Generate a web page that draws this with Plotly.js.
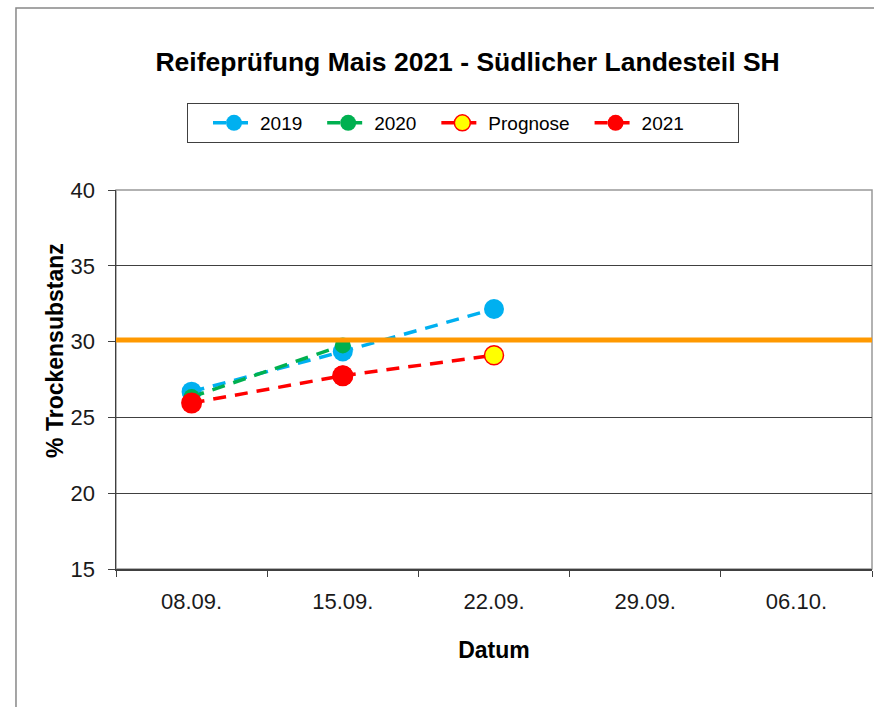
<!DOCTYPE html>
<html>
<head>
<meta charset="utf-8">
<script src="https://cdn.plot.ly/plotly-3.0.1.min.js"></script>
<style>html,body{margin:0;padding:0;background:#fff;}#chart{width:874px;height:707px;}</style>
</head>
<body>
<div id="chart"></div>
<script>
const categories = ["08.09.", "15.09.", "22.09.", "29.09.", "06.10."];
const dates2019 = ["08.09.", "15.09.", "22.09."];
const values2019 = [26.7, 29.35, 32.15];
const dates2020 = ["08.09.", "15.09."];
const values2020 = [26.35, 29.75];
const datesPrognose = ["15.09.", "22.09."];
const valuesPrognose = [27.75, 29.1];
const dates2021 = ["08.09.", "15.09."];
const values2021 = [25.95, 27.75];
const thresholdValue = 30.1;
const seriesNames = ["2019", "2020", "Prognose", "2021"];

const font = "Liberation Sans, Arial, sans-serif";
const dash = "13px,9px";
const gap = "\u2002\u2009\u200A";
const endGap = "\u2003\u2003\u2002\u200A";

const traces = [
  {x: dates2019, y: values2019, name: seriesNames[0] + gap, mode: "lines+markers",
   line: {color: "#00B0F0", width: 3.5, dash: dash},
   marker: {color: "#00B0F0", size: 20}},
  {x: dates2020, y: values2020, name: seriesNames[1] + gap, mode: "lines+markers",
   line: {color: "#00B050", width: 3.5, dash: dash},
   marker: {color: "#00B050", size: 16}},
  {x: datesPrognose, y: valuesPrognose, name: seriesNames[2] + gap, mode: "lines+markers",
   line: {color: "#FF0000", width: 3.5, dash: dash},
   marker: {color: "#FFFF00", size: 19, line: {color: "#FF0000", width: 1.5}}},
  {x: dates2021, y: values2021, name: seriesNames[3] + endGap, mode: "lines+markers",
   line: {color: "#FF0000", width: 3.5, dash: dash},
   marker: {color: "#FF0000", size: 21}}
];

const layout = {
  width: 874, height: 707,
  margin: {l: 116, r: 2, t: 190, b: 138},
  paper_bgcolor: "#fff", plot_bgcolor: "#fff",
  font: {family: font, size: 22, color: "#1a1a1a"},
  title: {text: "<b>Reifeprüfung Mais 2021 - Südlicher Landesteil SH</b>",
          font: {family: font, size: 26.5, color: "#000"},
          x: 0.535, xanchor: "center", y: 0.912, yanchor: "middle"},
  showlegend: true,
  legend: {orientation: "h", x: (187 - 116) / 756, xanchor: "left", y: 1.2296, yanchor: "top",
           bordercolor: "#404040", borderwidth: 1, bgcolor: "#fff", itemwidth: 42,
           title: {text: "\u2003", side: "left", font: {family: font, size: 10}},
           font: {family: font, size: 19, color: "#000"}, traceorder: "normal"},
  xaxis: {type: "category", categoryorder: "array", categoryarray: categories,
          range: [-0.5, 4.5], tickson: "boundaries", ticks: "outside", ticklen: 6,
          tickcolor: "#404040", showline: true, linecolor: "#404040", linewidth: 1.5,
          showgrid: false, zeroline: false, fixedrange: true, ticklabelstandoff: 12,
          tickfont: {family: font, size: 22, color: "#1a1a1a"},
          title: {text: "<b>Datum</b>", font: {family: font, size: 23, color: "#000"}, standoff: 29}},
  yaxis: {range: [15, 40], dtick: 5, tick0: 15, ticks: "outside", ticklen: 7,
          tickcolor: "#404040", showline: true, linecolor: "#404040", linewidth: 1.5,
          showgrid: true, gridcolor: "#404040", gridwidth: 1, zeroline: false,
          ticklabelstandoff: 8,
          tickfont: {family: font, size: 22, color: "#1a1a1a"}},
  annotations: [
    {text: "<b>% Trockensubstanz</b>", xref: "paper", yref: "paper", x: -0.0807, y: 0.578,
     xanchor: "center", yanchor: "middle", textangle: -90, showarrow: false,
     font: {family: font, size: 23, color: "#000"}}
  ],
  shapes: [
    {type: "line", xref: "paper", yref: "y", x0: 0, x1: 1, y0: thresholdValue, y1: thresholdValue,
     line: {color: "#FF9900", width: 5}, layer: "above"},
    {type: "rect", xref: "paper", yref: "paper", x0: 0, x1: 1, y0: 0, y1: 1,
     line: {color: "#999", width: 1.5}, layer: "below"},
    {type: "rect", xref: "paper", yref: "paper", x0: -0.1323, x1: 1.2, y0: -0.6, y1: 1.4802,
     line: {color: "#888", width: 1.5}, layer: "below"}
  ]
};

Plotly.newPlot("chart", traces, layout, {displayModeBar: false, staticPlot: true});
</script>
</body>
</html>
